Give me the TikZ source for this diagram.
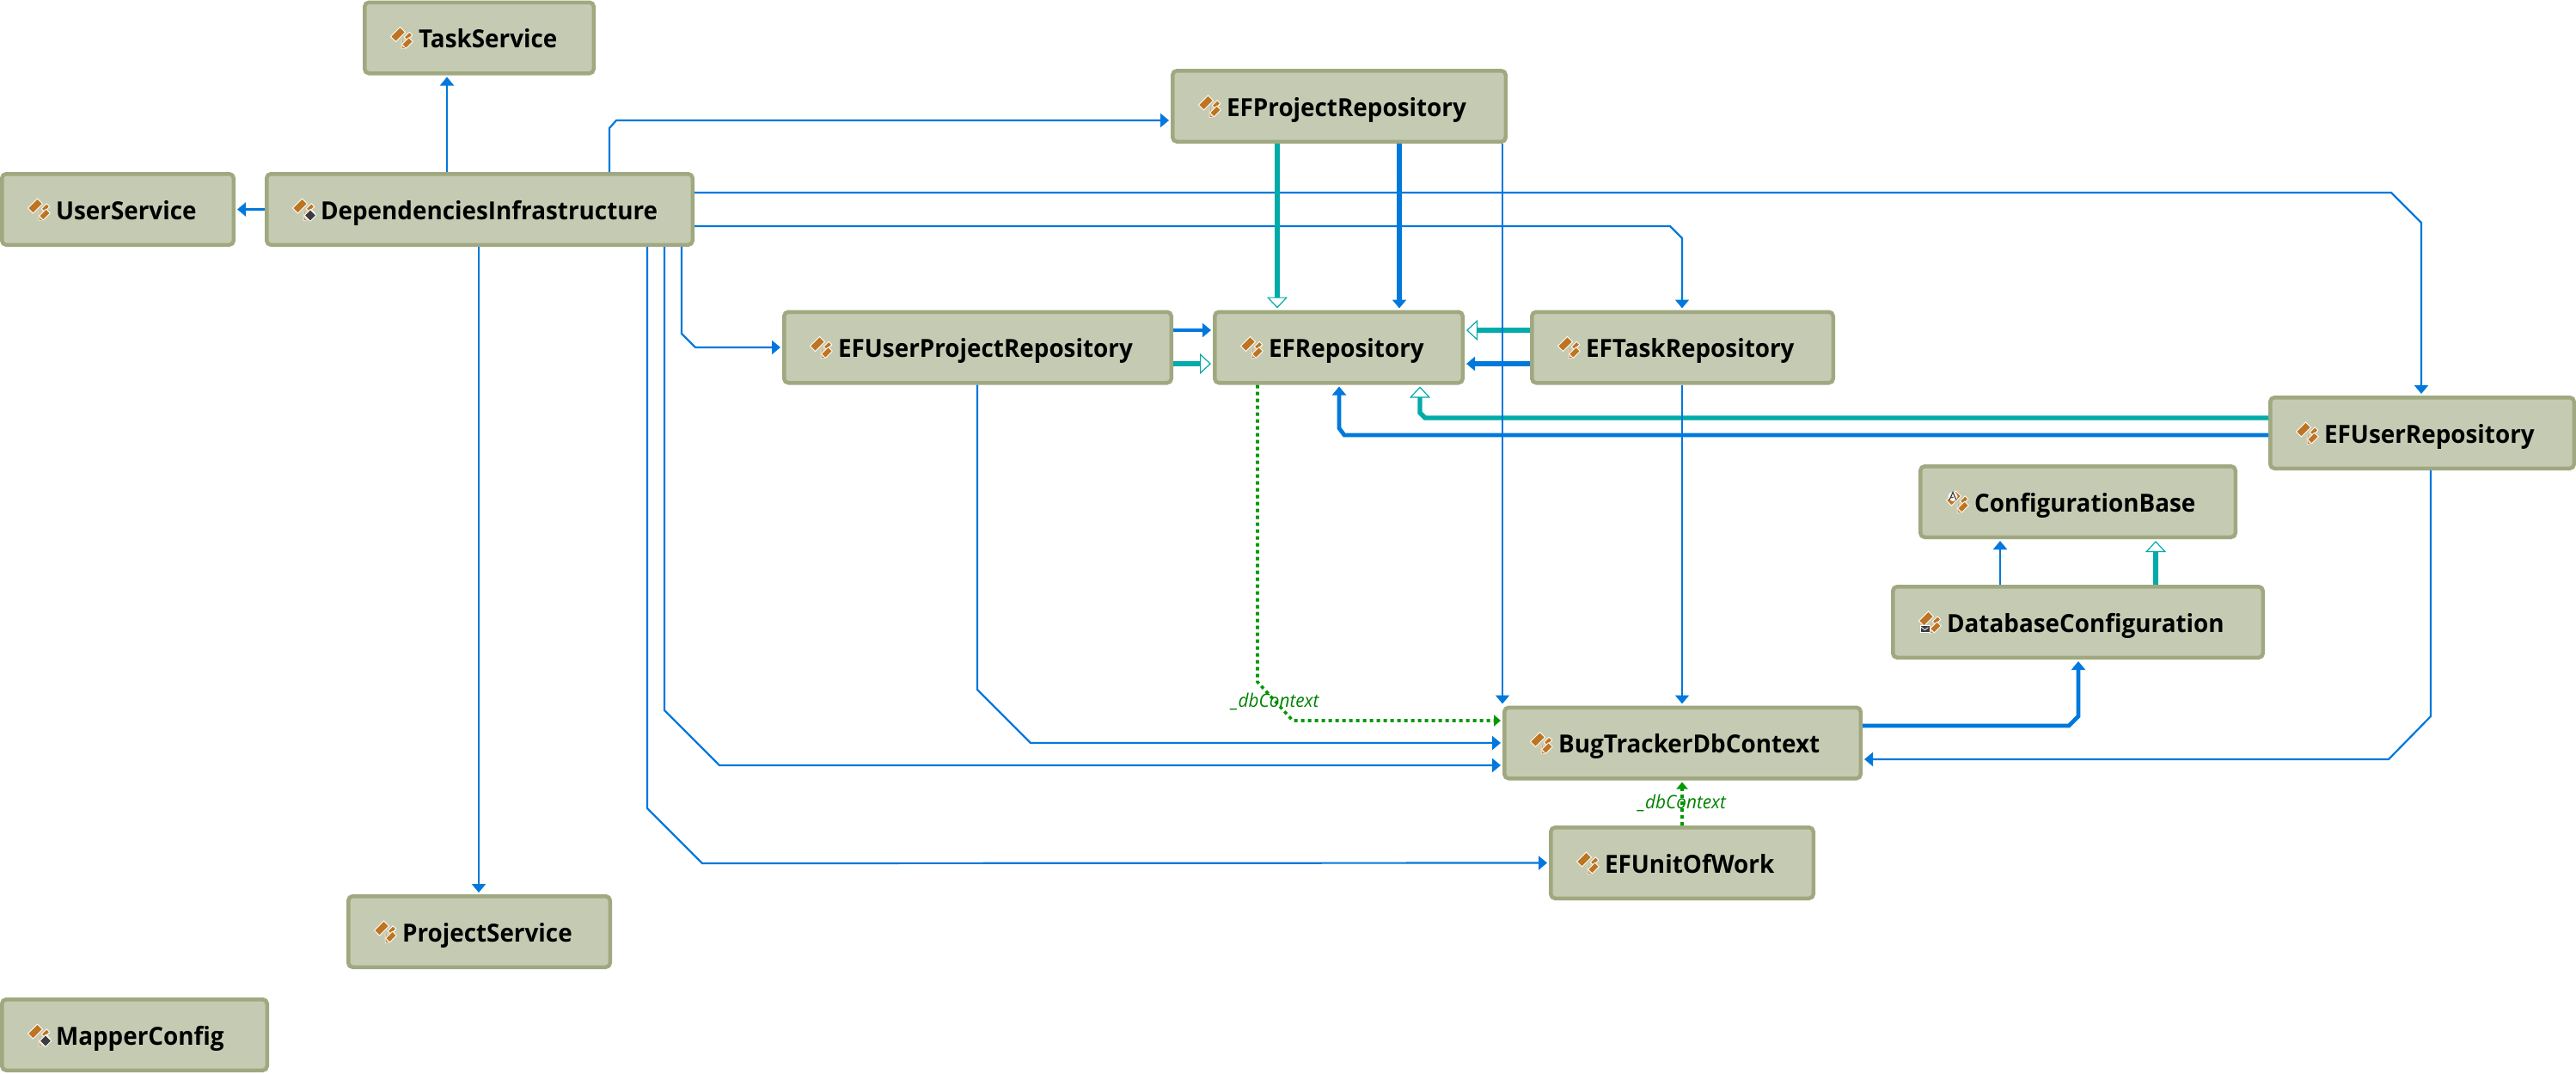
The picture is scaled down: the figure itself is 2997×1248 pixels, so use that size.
\documentclass[tikz,border=0pt]{standalone}
\usepackage{fontspec}
\setmainfont[FakeStretch=.96]{Open Sans}
\usetikzlibrary{arrows.meta}
\definecolor{clsfill}{HTML}{C5CBB3}
\definecolor{clsline}{HTML}{A0A880}
\definecolor{useblue}{HTML}{0078DC}
\definecolor{inhteal}{HTML}{00ABA9}
\definecolor{fieldgreen}{HTML}{009900}
\definecolor{labelgreen}{HTML}{008000}
\definecolor{iconorange}{HTML}{BE7420}
\definecolor{icondark}{HTML}{3C3C3C}
\newcommand{\clslabel}[2]{\makebox[\dimexpr #1pt/2-2.25pt\relax][l]{\hspace{31.4pt}#2}}
\newcommand{\icondia}[5]{\filldraw[draw=white,line width=.45pt,fill=#5,line join=round]
  ({#1+#3+#4},{#2-#3+#4}) -- ({#1+#3-#4},{#2-#3-#4}) -- ({#1-#3-#4},{#2+#3-#4}) -- ({#1-#3+#4},{#2+#3+#4}) -- cycle;}
\tikzset{
  cls/.style={draw=clsline,fill=clsfill,line width=2.25pt,rounded corners=2.5pt,outer sep=1.125pt,
    inner sep=0pt,minimum height=41.25pt,text height=13pt,text depth=1.5pt,
    font=\fontsize{14.5}{16}\selectfont\bfseries},
  uses/.style={->,draw=useblue,line width=1.1pt},
  usesmid/.style={->,draw=useblue,line width=2.4pt},
  usesbig/.style={->,draw=useblue,line width=3.4pt},
  inherit/.style={-{Triangle[open,length=6.5pt,width=12pt,line width=.6pt,fill=white]},draw=inhteal,line width=2.7pt},
  inheritbig/.style={inherit,line width=3.2pt},
  dbfield/.style={-{Triangle[length=4pt,width=6.5pt]},draw=fieldgreen,line width=1.8pt,dash pattern=on 2pt off 2pt},
  dblabel/.style={text=labelgreen,font=\fontsize{10.8}{12}\selectfont\itshape,inner sep=0pt},
  clsicon/.pic={
    \draw[white,line width=1.1pt] (5,2) -- (5,12) -- (10,11);
    \draw[iconorange,line width=.5pt] (5,2) -- (5,12) -- (10,11);
    \icondia{0}{-4}{5.5}{3}{iconorange}
    \icondia{12}{-2}{3}{1.8}{iconorange}
    \icondia{11}{6}{4}{2.4}{iconorange}
  },
  staticicon/.pic={\icondia{12}{7}{3.4}{3.4}{icondark}},
  absicon/.pic={
    \fill[white] (-1,-6) circle (5.5);
    \draw[icondark,line width=.6pt] (-5,-2) -- (-1,-11) -- (3,-2) (-3.5,-5) -- (1.5,-5);
  },
  mailicon/.pic={
    \filldraw[draw=white,line width=.4pt,fill=icondark] (-7,4) rectangle (4,12);
    \draw[white,line width=.4pt] (-7,5) -- (-1.5,9) -- (4,5);
  }
}
\begin{document}
\begin{tikzpicture}[x=.5pt,y=-.5pt,shorten >=1pt,>={Triangle[length=5pt,width=8pt]}]
  \useasboundingbox (0,0) rectangle (2997,1248);
  \node [cls] (task) at (557.5,44) {\clslabel{271}{TaskService}};
  \node [cls] (user) at (137,243.5) {\clslabel{274}{UserService}};
  \node [cls] (deps) at (558,243.5) {\clslabel{500}{DependenciesInfrastructure}};
  \node [cls] (efproject) at (1558,123.5) {\clslabel{392}{EFProjectRepository}};
  \node [cls] (efuserproject) at (1137.5,404) {\clslabel{455}{EFUserProjectRepository}};
  \node [cls] (efrepo) at (1557.5,404) {\clslabel{293}{EFRepository}};
  \node [cls] (eftask) at (1957.5,404) {\clslabel{355}{EFTaskRepository}};
  \node [cls] (efuser) at (2818,503.5) {\clslabel{358}{EFUserRepository}};
  \node [cls] (confbase) at (2417.5,583.5) {\clslabel{371}{ConfigurationBase}};
  \node [cls] (dbconf) at (2417.5,723.5) {\clslabel{435}{DatabaseConfiguration}};
  \node [cls] (bug) at (1957.5,864) {\clslabel{419}{BugTrackerDbContext}};
  \node [cls] (unit) at (1957,1003.5) {\clslabel{310}{EFUnitOfWork}};
  \node [cls] (project) at (557.5,1083.5) {\clslabel{309}{ProjectService}};
  \node [cls] (mapper) at (156.5,1203.5) {\clslabel{313}{MapperConfig}};
  \foreach \n in {task,user,deps,efproject,efuserproject,efrepo,eftask,efuser,confbase,dbconf,bug,unit,project,mapper}
    \pic at ([xshift=20.5pt]\n.west) {clsicon};
  \pic at ([xshift=20.5pt]deps.west) {staticicon};
  \pic at ([xshift=20.5pt]mapper.west) {staticicon};
  \pic at ([xshift=20.5pt]confbase.west) {absicon};
  \pic at ([xshift=20.5pt]dbconf.west) {mailicon};
  \draw[uses] (deps.north -| 520,0) -- (task.south -| 520,0);
  \draw[uses] (deps.west) -- (user.east);
  \draw[uses] (deps.south -| 557,0) -- (project.north -| 557,0);
  \draw[uses] (deps.north -| 709,0) -- (709,149) -- (717,140) -- (efproject.west |- 0,140);
  \draw[uses] (deps.east |- 0,224) -- (2782,224) -- (2817,259) -- (efuser.north -| 2817,0);
  \draw[uses] (deps.east |- 0,263) -- (1943,263) -- (1957,277) -- (eftask.north -| 1957,0);
  \draw[uses] (deps.south -| 793,0) -- (793,388) -- (809,404) -- (efuserproject.west);
  \draw[uses] (deps.south -| 773,0) -- (773,826) -- (837,890) -- (bug.west |- 0,890);
  \draw[uses] (deps.south -| 753,0) -- (753,940) -- (817,1004) -- (unit.west);
  \draw[uses] (efuserproject.south -| 1137,0) -- (1137,802) -- (1199,864) -- (bug.west);
  \draw[usesmid] (efuserproject.east |- 0,384) -- (efrepo.west |- 0,384);
  \draw[inherit] (efuserproject.east |- 0,423) -- (1380,423) -- (efrepo.west |- 0,423);
  \draw[inheritbig] (efproject.south -| 1486,0) -- (1486,260) -- (efrepo.north -| 1486,0);
  \draw[usesbig] (efproject.south -| 1628,0) -- (efrepo.north -| 1628,0);
  \draw[inherit] (eftask.west |- 0,384) -- (1760,384) -- (efrepo.east |- 0,384);
  \draw[usesbig] (eftask.west |- 0,423) -- (efrepo.east |- 0,423);
  \draw[inherit] (efuser.west |- 0,486) -- (1658,486) -- (1652,480) -- (efrepo.south -| 1652,0);
  \draw[usesmid] (efuser.west |- 0,506) -- (1564,506) -- (1558,498) -- (efrepo.south -| 1558,0);
  \draw[dbfield] (efrepo.south -| 1463,0) -- (1463,793) -- node[dblabel] {\_dbContext} (1504,838) -- (bug.west |- 0,838);
  \draw[uses] (efproject.south -| 1748,0) -- (bug.north -| 1748,0);
  \draw[uses] (eftask.south -| 1957,0) -- (bug.north -| 1957,0);
  \draw[uses] (efuser.south -| 2828,0) -- (2828,833) -- (2779,883) -- (bug.east |- 0,883);
  \draw[usesmid] (bug.east |- 0,844) -- (2407,844) -- (2418,833) -- (dbconf.south -| 2418,0);
  \draw[uses] (dbconf.north -| 2327,0) -- (confbase.south -| 2327,0);
  \draw[inherit] (dbconf.north -| 2508,0) -- (2508,660) -- (confbase.south -| 2508,0);
  \draw[dbfield] (unit.north -| 1957,0) -- node[dblabel] {\_dbContext} (bug.south -| 1957,0);
\end{tikzpicture}
\end{document}
